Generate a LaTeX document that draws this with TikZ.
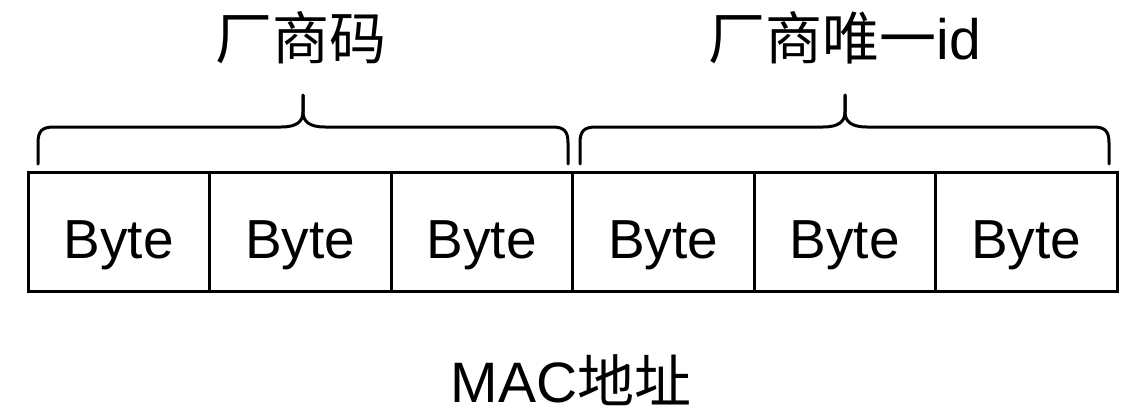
\documentclass[tikz,border=0pt]{standalone}
\usepackage{fontspec}
\setmainfont{Liberation Sans}
\newfontfamily\cjk{Noto Sans CJK SC}
\begin{document}
\begin{tikzpicture}[x=1pt,y=-1pt,
  cell/.style={draw=black,line width=3pt,minimum width=181.5pt,minimum height=119pt,inner sep=0pt,outer sep=0pt},
  bytelbl/.style={anchor=base,inner sep=0pt,font=\fontsize{55}{66}\selectfont},
  title/.style={inner sep=0pt,font=\fontsize{57}{68}\selectfont},
  bracestyle/.style={draw=black,line width=3pt,line cap=round}]
\useasboundingbox (0,0) rectangle (1134,416);
% cells
\foreach \i in {1,...,6}{
  \node[cell] (c\i) at ({28+90.75+181.5*(\i-1)},231.5) {};
  \node[bytelbl] (b\i) at ({28+90.75+181.5*(\i-1)},258) {Byte};
}
% braces
\coordinate (l1) at (38,164);
\coordinate (l2) at (568,164);
\coordinate (ltip) at (303,95);
\coordinate (r1) at (580,164);
\coordinate (r2) at (1109,164);
\coordinate (rtip) at (845,95);
\path[bracestyle] (l1) -- (38,143) .. controls (38,131) and (42,127) .. (54,127)
  -- (281,127) .. controls (296,127) and (303,122) .. (303,112) -- (ltip);
\path[bracestyle] (l2) -- (568,143) .. controls (568,131) and (564,127) .. (552,127)
  -- (325,127) .. controls (310,127) and (303,122) .. (303,112) -- (ltip);
\path[bracestyle] (r1) -- (580,143) .. controls (580,131) and (584,127) .. (596,127)
  -- (823,127) .. controls (838,127) and (845,122) .. (845,112) -- (rtip);
\path[bracestyle] (r2) -- (1109,143) .. controls (1109,131) and (1105,127) .. (1093,127)
  -- (867,127) .. controls (852,127) and (845,122) .. (845,112) -- (rtip);
% titles
\node[title] (t1) at (301,38) {\cjk 厂商码};
\node[title] (t2) at (845,38) {{\cjk 厂商唯一}id};
\node[title] (t3) at (571,380) {MAC{\cjk 地址}};
\end{tikzpicture}
\end{document}
